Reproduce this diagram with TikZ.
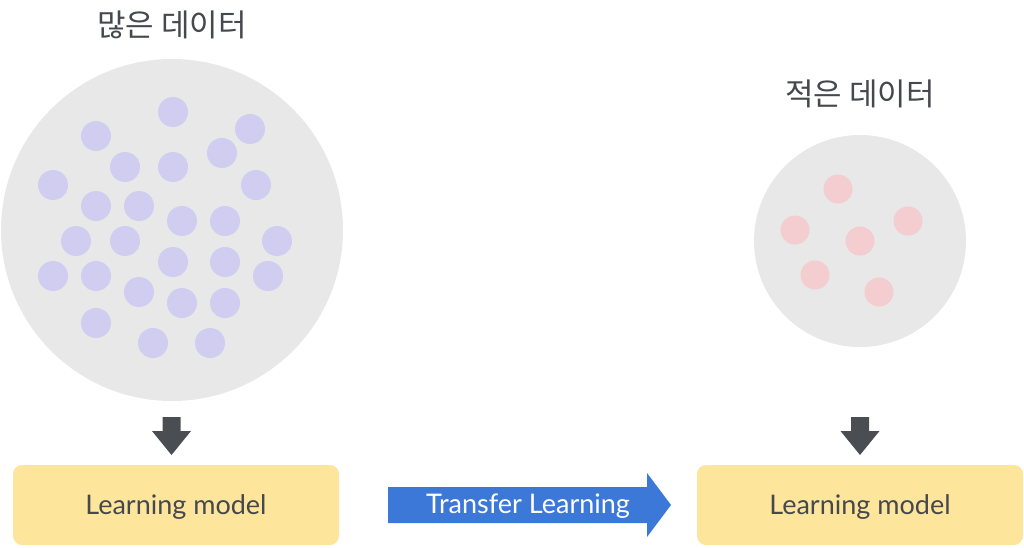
\documentclass[tikz,border=0pt]{standalone}
\usepackage{fontspec}
\setmainfont{Lato}
\newfontfamily\kr{Noto Sans CJK KR}
\definecolor{bgc}{HTML}{E8E8E8}
\definecolor{lav}{HTML}{D0CDF0}
\definecolor{pinkd}{HTML}{F3CDD0}
\definecolor{ylw}{HTML}{FDE69C}
\definecolor{darkg}{HTML}{4A4D52}
\definecolor{txtg}{HTML}{45484D}
\definecolor{blu}{HTML}{3C78D8}
\tikzset{
  pool/.style={circle, fill=bgc, inner sep=0pt},
  bdot/.style={circle, fill=lav, minimum size=30pt, inner sep=0pt},
  pdot/.style={circle, fill=pinkd, minimum size=29pt, inner sep=0pt},
  title/.style={font=\kr\fontsize{31}{34}\selectfont, text=txtg},
  model/.style={rounded corners=9pt, fill=ylw, minimum width=326pt, minimum height=80pt, font=\fontsize{27}{30}\selectfont, text=txtg},
  downarr/.style={fill=darkg},
  transfer/.style={fill=blu},
  trtext/.style={text=white, font=\fontsize{27}{30}\selectfont}
}
\begin{document}
\begin{tikzpicture}[x=1pt,y=-1pt]
\useasboundingbox (0,0) rectangle (1024,547);
\node[title] (t1) at (172,25) {많은 데이터};
\node[title] (t2) at (860,94) {적은 데이터};
\node[pool, minimum size=342pt] (big) at (172,230) {};
\foreach \i/\x/\y in {1/173/112,2/250/129,3/96/136,4/222/153,5/125/167,6/173/167,7/53/185,8/256/185,9/96/206,10/139/206,11/182/221,12/225/221,13/76/241,14/125/241,15/277/241,16/173/262,17/225/262,18/53/276,19/96/276,20/268/276,21/139/292,22/182/303,23/225/303,24/96/323,25/153/343,26/210/343}
  \node[bdot] (b\i) at (\x,\y) {};
\node[pool, minimum size=212pt] (small) at (860,241) {};
\foreach \i/\x/\y in {1/838/189,2/795/230,3/908/221,4/860/241,5/815/275,6/879/292}
  \node[pdot] (p\i) at (\x,\y) {};
% down arrows
\foreach \n/\cx in {a1/171.5,a2/860}{
  \fill[downarr] (\cx-9,417) -- (\cx+9,417) -- (\cx+9,431) -- (\cx+19.5,431) -- (\cx,455) -- (\cx-19.5,431) -- (\cx-9,431) -- cycle;
  \coordinate (\n) at (\cx,455);
}
\node[model] (m1) at (176,505) {};
\node[model] (m2) at (860,505) {};
\node[text=txtg, font=\fontsize{27}{30}\selectfont] (l1) at (176,507) {Learning model};
\node[text=txtg, font=\fontsize{27}{30}\selectfont] (l2) at (860,507) {Learning model};
% transfer arrow
\fill[transfer] (388,487) -- (647,487) -- (647,473) -- (671,505) -- (647,537) -- (647,523) -- (388,523) -- cycle;
\node[trtext] (tr) at (528,506) {Transfer Learning};
\end{tikzpicture}
\end{document}
